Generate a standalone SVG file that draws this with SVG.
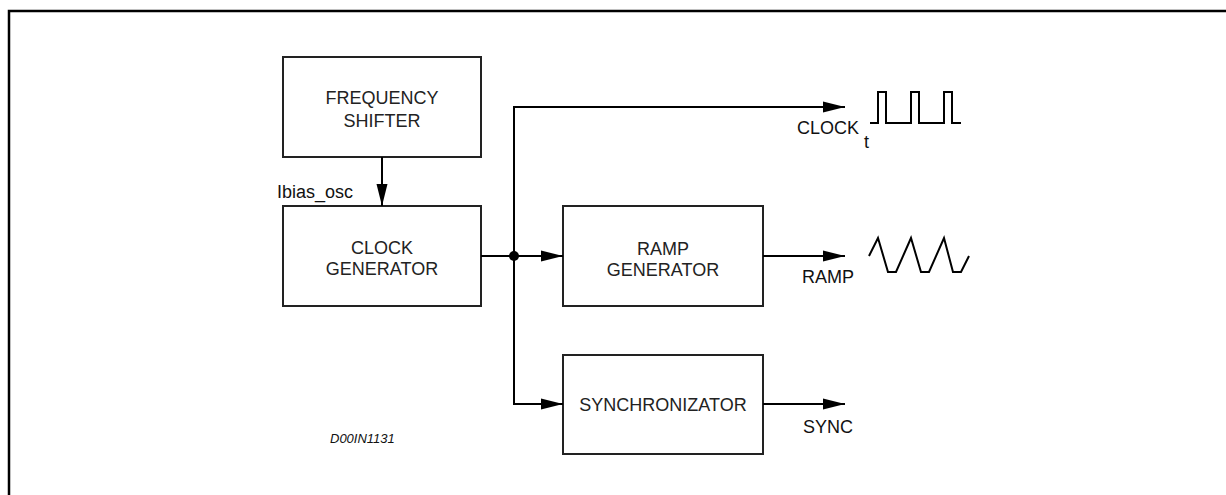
<svg xmlns="http://www.w3.org/2000/svg" width="1226" height="495" viewBox="0 0 1226 495">
<style>
.box{fill:#fff;stroke:#222;stroke-width:2}
.lbl{font-family:"Liberation Sans",Arial,sans-serif;font-size:18px;fill:#222;text-anchor:middle}
.sig{font-family:"Liberation Sans",Arial,sans-serif;font-size:18px;fill:#111}
.wire{fill:none;stroke:#000;stroke-width:2}
.wave{fill:none;stroke:#000;stroke-width:2}
</style>
<defs>
<marker id="arr" markerUnits="userSpaceOnUse" markerWidth="22" markerHeight="12" refX="22" refY="6" orient="auto">
<path d="M0,0.5 L22,6 L0,11.5 Z" fill="#000"/>
</marker>
</defs>
<path d="M9 495 V11 H1226" fill="none" stroke="#000" stroke-width="2.5"/>
<g id="freq-shifter">
<rect class="box" x="283" y="57" width="198" height="100"/>
<text class="lbl" x="382" y="103.5">FREQUENCY</text>
<text class="lbl" x="382" y="126.5">SHIFTER</text>
</g>
<g id="clock-generator">
<rect class="box" x="283" y="206" width="198" height="100"/>
<text class="lbl" x="382" y="253.5">CLOCK</text>
<text class="lbl" x="382" y="274.5">GENERATOR</text>
</g>
<g id="ramp-generator">
<rect class="box" x="563" y="206" width="200" height="100"/>
<text class="lbl" x="663" y="254.5">RAMP</text>
<text class="lbl" x="663" y="275.5">GENERATOR</text>
</g>
<g id="synchronizator">
<rect class="box" x="563" y="355" width="200" height="99"/>
<text class="lbl" x="663" y="410.5">SYNCHRONIZATOR</text>
</g>
<g id="connectors">
<path class="wire" d="M382 157 V206" marker-end="url(#arr)"/>
<path class="wire" d="M481 256 H563" marker-end="url(#arr)"/>
<path class="wire" d="M514 256 V107 H845" marker-end="url(#arr)"/>
<path class="wire" d="M514 256 V404 H563" marker-end="url(#arr)"/>
<path class="wire" d="M763 256 H845" marker-end="url(#arr)"/>
<path class="wire" d="M763 404 H845" marker-end="url(#arr)"/>
<circle cx="514" cy="256" r="5" fill="#000"/>
</g>
<g id="labels">
<text class="sig" x="277" y="198">Ibias_osc</text>
<text class="sig" x="797" y="134">CLOCK</text>
<text class="sig" x="864" y="148" font-size="16">t</text>
<text class="sig" x="802" y="283">RAMP</text>
<text class="sig" x="803" y="433">SYNC</text>
<text x="330" y="443" font-family="'Liberation Sans',Arial,sans-serif" font-size="13" font-style="italic" fill="#111">D00IN1131</text>
</g>
<g id="waves">
<path class="wave" d="M870 123 H878 V92 H886 V123 H911 V92 H919 V123 H944 V92 H952 V123 H961"/>
<path class="wave" d="M869 256 L878 238 L888 272 L896 272 L911 238 L921 272 L929 272 L944 238 L953 272 L961 272 L969 256"/>
</g>
</svg>
